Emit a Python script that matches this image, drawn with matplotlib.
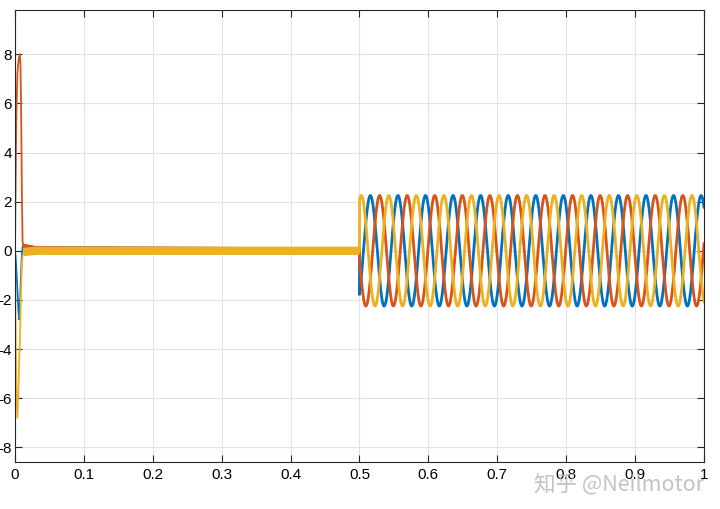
import numpy as np
import matplotlib
matplotlib.use("Agg")
import matplotlib.pyplot as plt

plt.rcParams["axes.unicode_minus"] = False
plt.rcParams["font.family"] = ["Liberation Sans", "DejaVu Sans"]

# phase colours (MATLAB default order)
colors = {"a": "#0072BD", "b": "#D95319", "c": "#EDB120"}

# start-up transient (time in s, current)
t_start = [0.0, 0.001, 0.002, 0.0035, 0.005, 0.006, 0.007, 0.008, 0.009, 0.010, 0.011, 0.012]
ia_start = [0.0, -0.3, -0.8, -1.6, -2.4, -2.8, -2.5, -1.6, -0.8, -0.2, 0.15, 0.2]
ib_start = [0.0, 3.0, 5.5, 7.2, 7.7, 7.9, 8.0, 7.6, 5.5, 2.5, 0.4, 0.2]
ic_start = [0.0, -3.5, -5.8, -6.8, -5.6, -4.6, -3.8, -2.6, -1.5, -0.6, -0.2, -0.15]

# near-zero interval before the load step
t_idle = [0.012, 0.03, 0.5]
ia_idle = [0.2, 0.1, 0.05]
ib_idle = [0.2, 0.1, 0.05]
ic_idle = [-0.05, 0.0, 0.0]

# sinusoidal interval after t = 0.5 s: amplitude, frequency, time of first peak
t_step = 0.5
amp = 2.25
freq = 25.0
peak_time = {"a": 0.5158, "b": 0.5292, "c": 0.5025}

xticks = [0, 0.1, 0.2, 0.3, 0.4, 0.5, 0.6, 0.7, 0.8, 0.9, 1]
xtick_labels = ["0", "0.1", "0.2", "0.3", "0.4", "0.5", "0.6", "0.7", "0.8", "0.9", "1"]
yticks = [-8, -6, -4, -2, 0, 2, 4, 6, 8]

fig = plt.figure(figsize=(7.2, 5.09), dpi=100)
ax = fig.add_axes([0.0208, 0.0923, 0.957, 0.888])

t_sine = np.linspace(t_step, 1.0, 4000)
starts = {"a": ia_start, "b": ib_start, "c": ic_start}
idles = {"a": ia_idle, "b": ib_idle, "c": ic_idle}
for ph in ["a", "b", "c"]:
    col = colors[ph]
    ax.plot(t_start, starts[ph], color=col, lw=1.3)
    ax.plot(t_idle, idles[ph], color=col, lw=6 if ph == "c" else 3, solid_capstyle="butt")
    y = amp * np.cos(2 * np.pi * freq * (t_sine - peak_time[ph]))
    ax.plot(np.r_[t_step, t_sine], np.r_[idles[ph][-1], y], color=col, lw=2)

ax.set_xlim(0, 1)
ax.set_ylim(-8.6, 9.8)
ax.set_xticks(xticks)
ax.set_xticklabels(xtick_labels)
ax.set_yticks(yticks)
ax.grid(True, color="#e3e3e3", lw=0.8)
ax.set_axisbelow(True)
ax.tick_params(direction="in", top=True, right=True, labelsize=11, length=5, color="#262626")
ax.tick_params(axis="y", pad=2)
ax.tick_params(axis="x", pad=4)
for s in ax.spines.values():
    s.set_color("#262626")
    s.set_linewidth(0.8)

fig.text(0.741, 0.046, "知乎 @Neilmotor", fontsize=15.5, color="#b4b4b4", alpha=0.8,
         family=["Noto Sans CJK SC", "DejaVu Sans"], va="center")

fig.savefig("out.png", dpi=100, facecolor="white")
